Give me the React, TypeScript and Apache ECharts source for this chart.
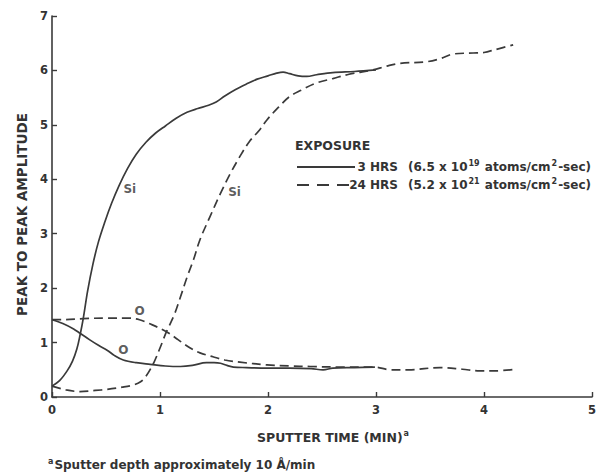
import React, { useEffect, useRef } from "react";
import * as echarts from "echarts";

const xTicks = [0, 1, 2, 3, 4, 5];
const yTicks = [0, 1, 2, 3, 4, 5, 6, 7];

// Si, 3 HRS (solid)
const si3: [number, number][] = [
  [0, 0.2], [0.07, 0.3], [0.14, 0.48], [0.19, 0.66], [0.23, 0.88], [0.26, 1.14], [0.29, 1.45],
  [0.33, 1.95], [0.38, 2.45], [0.43, 2.85], [0.49, 3.22], [0.55, 3.55], [0.62, 3.88], [0.7, 4.2],
  [0.78, 4.46], [0.87, 4.68], [0.96, 4.85], [1.05, 4.98], [1.15, 5.12], [1.25, 5.23], [1.35, 5.3],
  [1.45, 5.36], [1.52, 5.42], [1.6, 5.53], [1.7, 5.65], [1.8, 5.75], [1.9, 5.84], [2.0, 5.9],
  [2.08, 5.95], [2.14, 5.97], [2.2, 5.94], [2.28, 5.9], [2.36, 5.89], [2.45, 5.92], [2.6, 5.96],
  [2.8, 5.98], [3.0, 6.01],
];
// Si, 24 HRS (dashed)
const si24: [number, number][] = [
  [0, 0.2], [0.13, 0.13], [0.26, 0.1], [0.4, 0.12], [0.51, 0.14], [0.65, 0.18], [0.75, 0.22],
  [0.82, 0.28], [0.87, 0.38], [0.94, 0.62], [1.0, 0.9], [1.06, 1.2], [1.13, 1.5], [1.19, 1.84],
  [1.25, 2.2], [1.31, 2.52], [1.37, 2.89], [1.46, 3.3], [1.56, 3.74], [1.65, 4.1], [1.74, 4.42],
  [1.83, 4.7], [1.92, 4.9], [1.99, 5.09], [2.1, 5.33], [2.2, 5.52], [2.3, 5.63], [2.45, 5.77],
  [2.6, 5.85], [2.75, 5.93], [2.97, 6.01], [3.1, 6.08], [3.22, 6.13], [3.47, 6.16], [3.6, 6.22],
  [3.71, 6.3], [3.9, 6.32], [4.0, 6.33], [4.1, 6.38], [4.27, 6.47],
];
// O, 3 HRS (solid)
const o3: [number, number][] = [
  [0, 1.42], [0.1, 1.35], [0.2, 1.25], [0.26, 1.17], [0.35, 1.05], [0.43, 0.95], [0.51, 0.86],
  [0.58, 0.76], [0.66, 0.68], [0.78, 0.63], [0.91, 0.6], [1.05, 0.57], [1.19, 0.56], [1.3, 0.58],
  [1.43, 0.63], [1.5, 0.63], [1.56, 0.62], [1.62, 0.58], [1.68, 0.55], [1.8, 0.54], [1.99, 0.53],
  [2.2, 0.53], [2.4, 0.52], [2.51, 0.5], [2.6, 0.53], [2.8, 0.54], [2.99, 0.55],
];
// O, 24 HRS (dashed)
const o24: [number, number][] = [
  [0, 1.42], [0.1, 1.42], [0.29, 1.44], [0.5, 1.45], [0.7, 1.45], [0.81, 1.42], [0.9, 1.35],
  [1.06, 1.2], [1.17, 1.05], [1.28, 0.9], [1.37, 0.81], [1.49, 0.74], [1.6, 0.68], [1.74, 0.64],
  [1.99, 0.59], [2.2, 0.57], [2.39, 0.56], [2.7, 0.55], [2.99, 0.55], [3.13, 0.5], [3.3, 0.5],
  [3.59, 0.54], [3.8, 0.51], [3.96, 0.48], [4.1, 0.48], [4.29, 0.51],
];

const curveLabels = [
  { text: "Si", at: [0.72, 3.82] },
  { text: "Si", at: [1.69, 3.77] },
  { text: "O", at: [0.81, 1.58] },
  { text: "O", at: [0.66, 0.86] },
];

const INK = "#3a3a3a";
const TXT = "#333";
const FONT = "'DejaVu Sans', Verdana, sans-serif";

export default function App() {
  const ref = useRef<HTMLDivElement>(null);
  useEffect(() => {
    if (!ref.current) return;
    const chart = echarts.init(ref.current, null, { renderer: "svg" });
    const lineSeries = (data: [number, number][], dashed: boolean) => ({
      type: "line",
      data,
      smooth: 0.35,
      showSymbol: false,
      silent: true,
      lineStyle: { color: INK, width: 1.7, type: dashed ? [9, 5] : "solid" },
    });
    const axisCommon = {
      axisLine: { show: true, lineStyle: { color: INK, width: 1.6 } },
      axisTick: { show: true, inside: true, length: 5, lineStyle: { color: INK, width: 1.4 } },
      splitLine: { show: false },
      axisLabel: { color: TXT, fontFamily: FONT, fontWeight: "bold", fontSize: 11.5 },
    };
    const rich = {
      b: { fill: TXT, color: TXT, fontFamily: FONT, fontWeight: "bold", fontSize: 12 },
      s: { fill: TXT, color: TXT, fontFamily: FONT, fontWeight: "bold", fontSize: 8, padding: [0, 1, 7, 1] },
    };
    chart.setOption({
      animation: false,
      backgroundColor: "#ffffff",
      grid: { left: 52, top: 16, width: 540, height: 381 },
      xAxis: {
        type: "value",
        min: xTicks[0],
        max: xTicks[xTicks.length - 1],
        interval: 1,
        ...axisCommon,
        axisLabel: { ...axisCommon.axisLabel, margin: 7 },
        name: "{n|SPUTTER TIME (MIN)}{s|a}",
        nameLocation: "middle",
        nameGap: 32,
        nameTextStyle: {
          color: TXT,
          fontFamily: FONT,
          fontWeight: "bold",
          fontSize: 12.5,
          padding: [0, 0, 0, 22],
          rich: {
            n: { fontFamily: FONT, fontWeight: "bold", fontSize: 12.5, color: TXT },
            s: { fontFamily: FONT, fontWeight: "bold", fontSize: 8, color: TXT, padding: [0, 0, 8, 1] },
          },
        },
      },
      yAxis: {
        type: "value",
        min: yTicks[0],
        max: yTicks[yTicks.length - 1],
        interval: 1,
        ...axisCommon,
        axisLabel: { ...axisCommon.axisLabel, margin: 4 },
        name: "PEAK TO PEAK AMPLITUDE",
        nameLocation: "middle",
        nameGap: 23,
        nameTextStyle: {
          color: TXT,
          fontFamily: FONT,
          fontWeight: "bold",
          fontSize: 13.5,
          padding: [0, 16, 0, 0],
        },
      },
      series: [
        lineSeries(si3, false),
        lineSeries(o3, false),
        lineSeries(si24, true),
        lineSeries(o24, true),
        {
          type: "scatter",
          data: curveLabels.map((l) => ({ value: l.at, name: l.text })),
          symbolSize: 0,
          silent: true,
          label: {
            show: true,
            position: "inside",
            formatter: (p: any) => p.name,
            color: TXT,
            fontFamily: FONT,
            fontWeight: "bold",
            fontSize: 12,
          },
        },
      ],
      graphic: [
        {
          type: "text",
          x: 295,
          y: 145,
          style: { text: "EXPOSURE", fill: TXT, font: `bold 12.5px ${FONT}`, verticalAlign: "middle" },
        },
        { type: "line", shape: { x1: 297, y1: 167, x2: 355, y2: 167 }, style: { stroke: INK, lineWidth: 1.8 } },
        { type: "line", shape: { x1: 297, y1: 185, x2: 350, y2: 185 }, style: { stroke: INK, lineWidth: 1.8, lineDash: [12, 8] } },
        {
          type: "text",
          x: 398,
          y: 167,
          style: { text: "3 HRS", fill: TXT, font: `bold 12px ${FONT}`, align: "right", verticalAlign: "middle" },
        },
        {
          type: "text",
          x: 398,
          y: 185,
          style: { text: "24 HRS", fill: TXT, font: `bold 12px ${FONT}`, align: "right", verticalAlign: "middle" },
        },
        {
          type: "text",
          x: 408,
          y: 167,
          style: {
            text: "{b|(6.5 x 10}{s|19}{b| atoms/cm}{s|2}{b|-sec)}",
            verticalAlign: "middle",
            rich,
          },
        },
        {
          type: "text",
          x: 408,
          y: 185,
          style: {
            text: "{b|(5.2 x 10}{s|21}{b| atoms/cm}{s|2}{b|-sec)}",
            verticalAlign: "middle",
            rich,
          },
        },
        {
          type: "text",
          x: 47,
          y: 465,
          style: {
            text: "{s|a}{b|Sputter depth approximately 10 Å/min}",
            verticalAlign: "middle",
            rich,
          },
        },
      ],
    });
    return () => chart.dispose();
  }, []);
  return <div ref={ref} style={{ width: 602, height: 476, position: "absolute", left: 0, top: 0 }} />;
}
